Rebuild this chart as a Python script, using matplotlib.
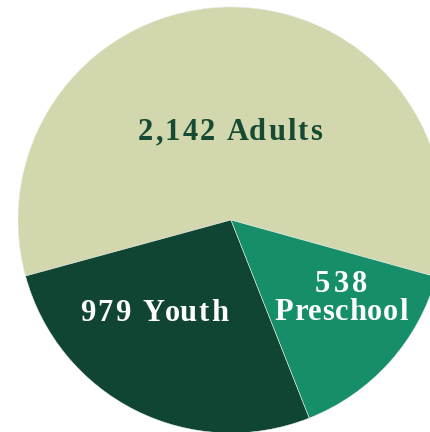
import matplotlib.pyplot as plt

labels = ['Adults', 'Youth', 'Preschool']
counts = [2142, 979, 538]
colors = ['#d2d7ad', '#0f4532', '#178e6a']

fig = plt.figure(figsize=(4.31, 4.32), dpi=100)
ax = fig.add_axes([0, 0, 1, 1])

# круг чуть выходит за правый край
cx_px, cy_px, r_px = 231, 220, 213
ax.pie(counts, colors=colors, startangle=-15.5, counterclock=True,
       radius=1, center=(0, 0),
       wedgeprops={'edgecolor': '#e8efe6', 'linewidth': 0.4})

ax.set_aspect('auto')
ax.set_xlim(-cx_px / r_px, (431 - cx_px) / r_px)
ax.set_ylim(-(432 - cy_px) / r_px, cy_px / r_px)
ax.axis('off')

renderer = fig.canvas.get_renderer()
font = {'family': ['Liberation Serif', 'DejaVu Serif'], 'fontweight': 'bold', 'fontsize': 22}


def text_width(s):
    t = fig.text(0, 0, '|' + s + '|', **font)
    w = t.get_window_extent(renderer).width
    t.remove()
    t = fig.text(0, 0, '||', **font)
    w -= t.get_window_extent(renderer).width
    t.remove()
    return w


def spaced_text(s, xc, y_base, target_w, color):
    # рисуем по буквам, чтобы получить разрядку как в оригинале
    natural = text_width(s)
    gap = (target_w - natural) / (len(s) - 1)
    x0 = xc - target_w / 2
    for i, ch in enumerate(s):
        x = x0 + text_width(s[:i]) + gap * i
        fig.text(x / 431, 1 - y_base / 432, ch, color=color, ha='left',
                 va='baseline', **font)


label_text = [f'{counts[0]:,} {labels[0]}', f'{counts[1]:,} {labels[1]}']
spaced_text(label_text[0], 230, 140, 184, '#164a33')
spaced_text(label_text[1], 154, 321, 148, 'white')
spaced_text(str(counts[2]), 341, 292, 52, 'white')
spaced_text(labels[2], 341, 320, 133, 'white')

plt.savefig('out.png', dpi=100)
